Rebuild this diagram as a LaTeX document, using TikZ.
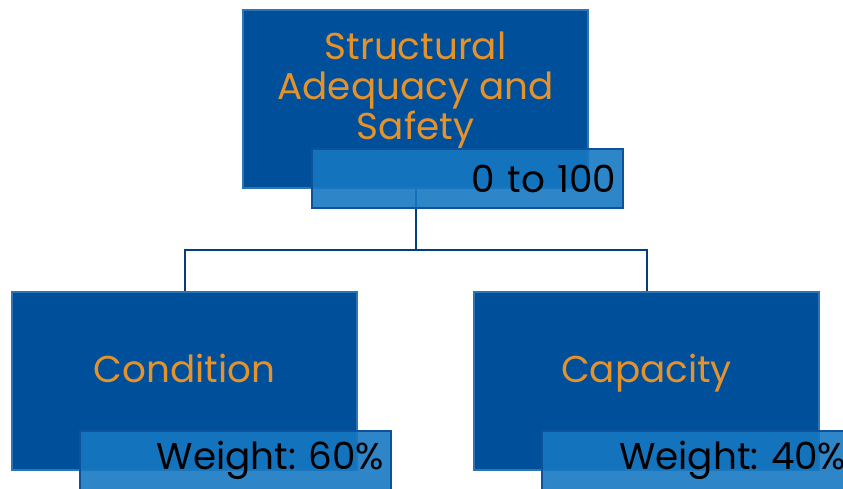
\documentclass[tikz,border=0pt]{standalone}
\usepackage{fontspec}
\setmainfont{Poppins}
\frenchspacing
\usepackage{tikz}
\usetikzlibrary{positioning,calc}
\usepackage{xcolor}
\definecolor{boxfill}{RGB}{0,79,154}
\definecolor{boxedge}{RGB}{46,117,182}
\definecolor{tagfill}{RGB}{23,120,193}
\definecolor{tagedge}{RGB}{15,82,155}
\definecolor{heading}{RGB}{228,146,44}
\definecolor{linkline}{RGB}{0,63,128}

\begin{document}
\begin{tikzpicture}[
    x=0.75pt, y=-0.75pt,
    crit/.style={rectangle, draw=boxedge, fill=boxfill, line width=1.5pt,
                 minimum width=258.75pt, minimum height=133.5pt},
    heading/.style={align=center, text=heading,
                    font=\fontsize{28pt}{30pt}\selectfont},
    tag/.style={rectangle, draw=tagedge, fill=tagfill, fill opacity=0.9,
                text opacity=1, line width=1.5pt,
                text width=223.25pt, inner xsep=5pt, align=right,
                minimum height=44.25pt,
                font=\fontsize{28pt}{30pt}\selectfont},
    link/.style={draw=linkline, line width=1.5pt}
  ]
  \useasboundingbox (0,0) rectangle (843,489);

  % the three criteria boxes
  \node[crit] (safety) at (415.5,99) {};
  \node[crit] (cond) at (184.5,381) {};
  \node[crit] (cap) at (646.5,381) {};

  \node[heading] (safetytxt) at ([yshift=6pt]safety.center)
    {Structural\\Adequacy and\\Safety};
  \node[heading, anchor=base] (condtxt) at ($(cond.center)+(0,1)$) {Condition};
  \node[heading, anchor=base] (captxt) at ($(cap.center)+(0,1)$) {Capacity};

  % tree lines, kept under the tags
  \coordinate (split) at ($(safety.south)+(0,61)$);
  \draw[link] (safety.south) -- (split) -| (cond.north);
  \draw[link] (split) -| (cap.north);

  % score / weight tags
  \node[tag, anchor=south east] (safetytag)
    at ($(safety.south east)+(35,20)$) {0 to 100};
  \node[tag, anchor=south east] (condtag)
    at ($(cond.south east)+(34,20)$) {Weight: 60\%};
  \node[tag, anchor=south east] (captag)
    at ($(cap.south east)+(34,20)$) {Weight: 40\%};
\end{tikzpicture}
\end{document}
